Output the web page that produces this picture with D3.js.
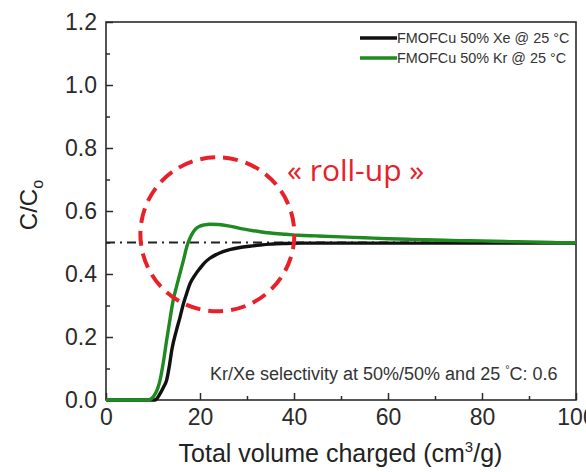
<!DOCTYPE html>
<html>
<head>
<meta charset="utf-8">
<script src="https://cdn.jsdelivr.net/npm/d3@7"></script>
<style>
  html, body { margin: 0; padding: 0; background: #fff; }
  svg { display: block; }
</style>
</head>
<body>
<svg id="chart" width="586" height="472"></svg>
<script>
// ---- data ----
const seriesNames = ["FMOFCu 50% Xe @ 25 \u00B0C", "FMOFCu 50% Kr @ 25 \u00B0C"];
const seriesColors = ["#111111", "#1f8a1f"];

const xeX = [0, 5, 10.4, 11.5, 12.2, 12.9, 13.5, 14, 15, 15.7, 16.5, 17.2, 17.9, 19, 20, 21, 22.1, 23.5, 24.9, 26.5, 28.5, 30.5, 32.8, 35, 38.4, 42, 50, 60, 70, 80, 90, 100];
const xeY = [0, 0, 0, 0.02, 0.04, 0.063, 0.11, 0.159, 0.222, 0.26, 0.307, 0.34, 0.37, 0.398, 0.418, 0.436, 0.45, 0.462, 0.471, 0.478, 0.484, 0.488, 0.492, 0.495, 0.497, 0.498, 0.498, 0.498, 0.498, 0.498, 0.498, 0.498];

const krX = [0, 5, 9.0, 10.5, 11.5, 12.2, 12.9, 13.6, 14.3, 15, 15.7, 16.5, 17.2, 17.9, 18.6, 19.3, 20, 21, 22, 24, 26, 28.5, 30, 32.8, 35, 38.4, 41, 44.8, 50, 55, 60, 65, 70, 75, 80, 85, 90, 95, 98, 100];
const krY = [0, 0, 0, 0.02, 0.063, 0.12, 0.19, 0.255, 0.317, 0.36, 0.40, 0.445, 0.487, 0.515, 0.534, 0.546, 0.552, 0.556, 0.558, 0.557, 0.553, 0.545, 0.541, 0.534, 0.530, 0.526, 0.523, 0.521, 0.518, 0.515, 0.512, 0.510, 0.508, 0.506, 0.505, 0.503, 0.502, 0.500, 0.499, 0.499];

const refLevel = 0.5;                 // dash-dot reference line
const xTicks = [0, 20, 40, 60, 80, 100];
const xMinorTicks = [10, 30, 50, 70, 90];
const yTicks = [0.0, 0.2, 0.4, 0.6, 0.8, 1.0, 1.2];
const yMinorTicks = [0.1, 0.3, 0.5, 0.7, 0.9, 1.1];
const rollupCenter = [23.7, 0.526];   // annotation circle centre (data units)
const annotationText = "\u00AB roll-up \u00BB";
const selectivityText = ["Kr/Xe selectivity at 50%/50% and 25 ", "\u00B0", "C: 0.6"];
const xTitle = ["Total volume charged (cm", "3", "/g)"];
const yTitle = ["C/C", "o"];

// ---- layout ----
const svg = d3.select("#chart");
const L = 106, R = 576, T = 22, B = 400;
const x = d3.scaleLinear().domain([0, 100]).range([L, R]);
const y = d3.scaleLinear().domain([0, 1.2]).range([B, T]);
const font = "'Liberation Sans', Arial, sans-serif";
const axisColor = "#2b2b2b";

// axes
const gx = svg.append("g").attr("transform", `translate(0,${B})`)
  .call(d3.axisBottom(x).tickValues(xTicks).tickSize(-7).tickPadding(9).tickFormat(d3.format("d")));
const gxm = svg.append("g").attr("transform", `translate(0,${B})`)
  .call(d3.axisBottom(x).tickValues(xMinorTicks).tickSize(-4).tickFormat(""));
const gy = svg.append("g").attr("transform", `translate(${L},0)`)
  .call(d3.axisLeft(y).tickValues(yTicks).tickSize(-7).tickPadding(9).tickFormat(d3.format(".1f")));
const gym = svg.append("g").attr("transform", `translate(${L},0)`)
  .call(d3.axisLeft(y).tickValues(yMinorTicks).tickSize(-4).tickFormat(""));
[gx, gxm, gy, gym].forEach(g => {
  g.select(".domain").remove();
  g.selectAll("line").attr("stroke", axisColor).attr("stroke-width", 1.5);
  g.selectAll("text").attr("fill", "#2a2a2a").attr("font-family", font).attr("font-size", 23);
});
gx.selectAll("text").attr("dy", "0.71em");

// frame
svg.append("rect").attr("x", L).attr("y", T).attr("width", R - L).attr("height", B - T)
  .attr("fill", "none").attr("stroke", axisColor).attr("stroke-width", 1.6);

// reference dash-dot line
svg.append("line")
  .attr("x1", x(0)).attr("x2", x(100)).attr("y1", y(refLevel)).attr("y2", y(refLevel))
  .attr("stroke", "#222").attr("stroke-width", 2.2).attr("stroke-dasharray", "9,5,2,5");

// curves
const line = d3.line().x(d => x(d[0])).y(d => y(d[1])).curve(d3.curveMonotoneX);
const series = [d3.zip(xeX, xeY), d3.zip(krX, krY)];
series.forEach((s, i) => {
  svg.append("path").datum(s).attr("d", line)
    .attr("fill", "none").attr("stroke", seriesColors[i]).attr("stroke-width", 3.4)
    .attr("stroke-linejoin", "round");
});

// roll-up circle
svg.append("circle")
  .attr("cx", x(rollupCenter[0])).attr("cy", y(rollupCenter[1])).attr("r", 77)
  .attr("fill", "none").attr("stroke", "#e8202a").attr("stroke-width", 4)
  .attr("stroke-dasharray", "15,8");

svg.append("text").attr("x", 287).attr("y", 181)
  .attr("font-family", "'Open Sans', sans-serif").attr("font-size", 30)
  .attr("fill", "#e8202a").text(annotationText);

// legend
seriesNames.forEach((name, i) => {
  const ly = 38 + i * 20;
  svg.append("line").attr("x1", 360).attr("x2", 397).attr("y1", ly).attr("y2", ly)
    .attr("stroke", seriesColors[i]).attr("stroke-width", 3.4);
  svg.append("text").attr("x", 397).attr("y", ly + 5)
    .attr("font-family", font).attr("font-size", 14.4).attr("fill", "#333").text(name);
});

// selectivity note
const sel = svg.append("text").attr("x", 210).attr("y", 380)
  .attr("font-family", font).attr("font-size", 18).attr("fill", "#333");
sel.append("tspan").text(selectivityText[0]);
sel.append("tspan").attr("font-size", 11).attr("dy", -7).text(selectivityText[1]);
sel.append("tspan").attr("dy", 7).text(selectivityText[2]);

// x title
const xt = svg.append("text").attr("x", (178 + 503) / 2).attr("y", 462).attr("text-anchor", "middle")
  .attr("font-family", font).attr("font-size", 25).attr("fill", "#222");
xt.append("tspan").text(xTitle[0]);
xt.append("tspan").attr("font-size", 15).attr("dy", -10).text(xTitle[1]);
xt.append("tspan").attr("dy", 10).text(xTitle[2]);

// y title
const yt = svg.append("text").attr("transform", `translate(37,${205}) rotate(-90)`)
  .attr("text-anchor", "middle").attr("font-family", font).attr("font-size", 24).attr("fill", "#222");
yt.append("tspan").text(yTitle[0]);
yt.append("tspan").attr("font-size", 16).attr("dy", 6).text(yTitle[1]);
</script>
</body>
</html>
